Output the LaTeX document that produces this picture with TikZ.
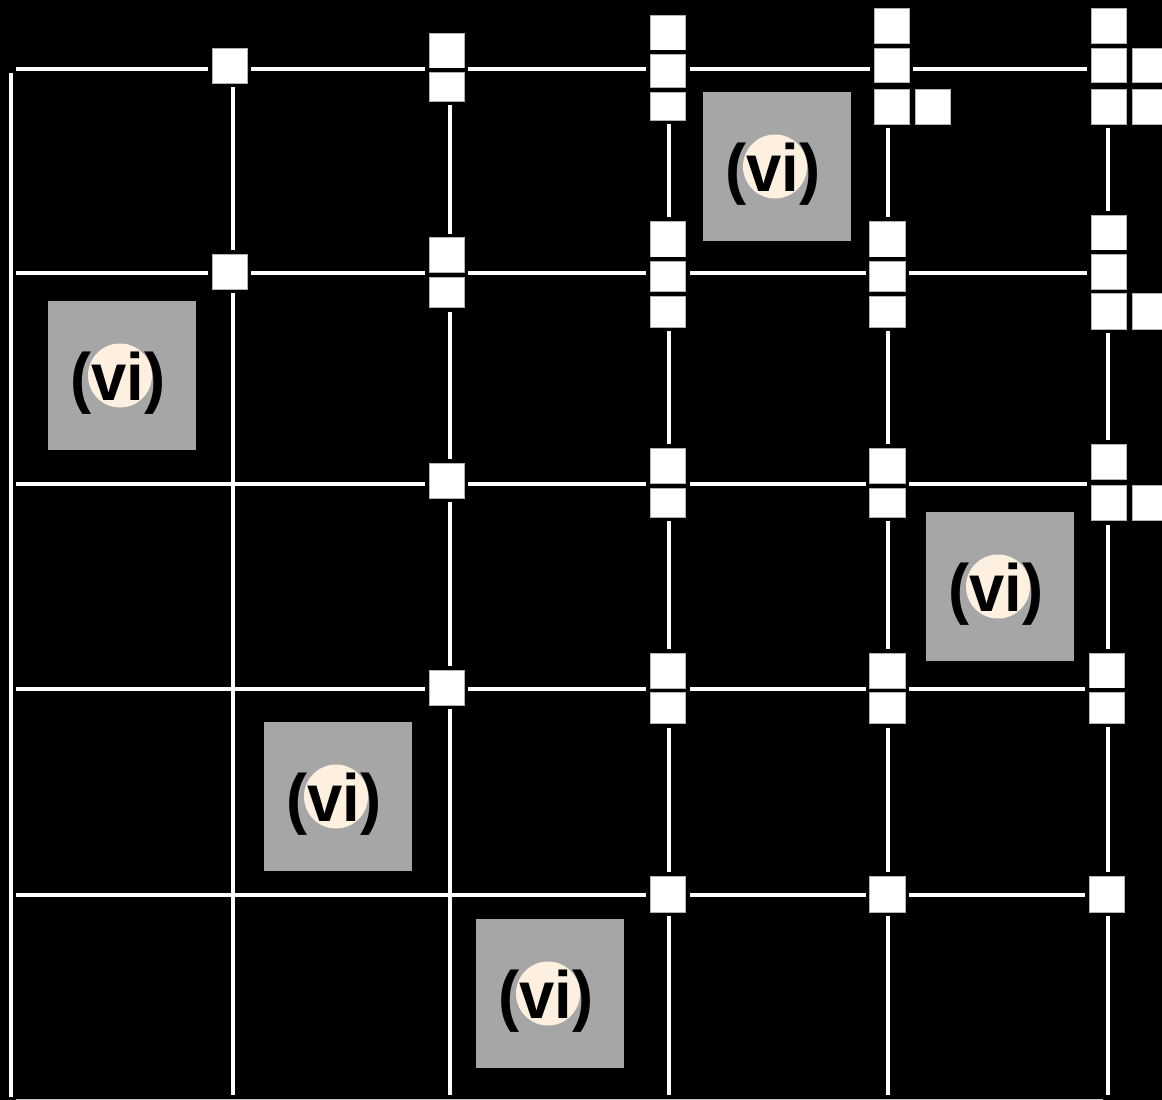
\documentclass[tikz,border=0pt]{standalone}
\usepackage{fontspec}
\setmainfont{Liberation Sans}
\usetikzlibrary{calc}
\definecolor{boxgray}{RGB}{166,166,166}
\definecolor{cream}{RGB}{253,240,225}
\newcommand{\vilabel}{\scalebox{0.945}[1]{(vi)}}
\begin{document}
\begin{tikzpicture}[x=1pt,y=-1pt,
  gline/.style={white, line width=4pt},
  sq/.style={rectangle, fill=white, draw=gray!60, line width=0.5pt, inner sep=0pt, outer sep=0pt,
    preaction={draw=black, line width=8pt}},
  gbox/.style={rectangle, fill=boxgray, minimum width=148pt, minimum height=149pt, inner sep=0pt},
  dotc/.style={circle, fill=cream, minimum size=64pt, inner sep=0pt},
  lbl/.style={font=\bfseries\fontsize{67}{80}\selectfont, inner sep=0pt, anchor=base, text=black}]
\fill[black] (0,0) rectangle (1162,1100);
\useasboundingbox (0,0) rectangle (1162,1100);

% grid coordinates
\foreach \n/\y in {1/68.5,2/273,3/484,4/689,5/895}{
  \coordinate (L\n) at (16,\y);
  \coordinate (R\n) at (1108,\y);
}
\foreach \n/\x/\t in {1/232.7/65,2/450/50,3/669/32,4/888.3/26,5/1107.7/26}{
  \coordinate (T\n) at (\x,\t);
  \coordinate (B\n) at (\x,1095);
}
\coordinate (T0) at (11.3,72.7);
\coordinate (B0) at (11.3,1097);
\coordinate (BL) at (16,1099.5);
\coordinate (BR) at (1103,1099.5);

% lines
\foreach \n in {1,...,5}{ \draw[gline] (L\n) -- (R\n); }
\foreach \n in {1,...,5}{ \draw[gline] (T\n) -- (B\n); }
\draw[gline] (T0) -- (B0);
\draw[gray!45, line width=1pt] (BL) -- (BR);

% column 1
\node[sq, minimum width=35pt, minimum height=35pt] (c1a) at (229.5,65.5) {};
\node[sq, minimum width=35pt, minimum height=35pt] (c1b) at (229.5,271.5) {};
% column 2
\node[sq, minimum width=35pt, minimum height=35pt] (c2a) at (446.8,50.8) {};
\node[sq, minimum width=35pt, minimum height=29pt] (c2b) at (446.8,86.8) {};
\node[sq, minimum width=35pt, minimum height=35pt] (c2c) at (446.8,255.2) {};
\node[sq, minimum width=35pt, minimum height=30.7pt] (c2d) at (446.8,292.35) {};
\node[sq, minimum width=35pt, minimum height=35pt] (c2e) at (446.8,480.8) {};
\node[sq, minimum width=35pt, minimum height=35pt] (c2f) at (446.8,687.5) {};
% column 3
\node[sq, minimum width=35.4pt, minimum height=35pt] (c3a) at (668,32.5) {};
\node[sq, minimum width=35.4pt, minimum height=33pt] (c3b) at (668,70.5) {};
\node[sq, minimum width=35.4pt, minimum height=28pt] (c3c) at (668,106) {};
\node[sq, minimum width=35.4pt, minimum height=36pt] (c3d) at (668,239) {};
\node[sq, minimum width=35.4pt, minimum height=30pt] (c3e) at (668,276) {};
\node[sq, minimum width=35.4pt, minimum height=31pt] (c3f) at (668,311.5) {};
\node[sq, minimum width=35.4pt, minimum height=35.4pt] (c3g) at (668,466) {};
\node[sq, minimum width=35.4pt, minimum height=29pt] (c3h) at (668,502.5) {};
\node[sq, minimum width=35.4pt, minimum height=35.4pt] (c3i) at (668,671) {};
\node[sq, minimum width=35.4pt, minimum height=31pt] (c3j) at (668,708.2) {};
\node[sq, minimum width=35.4pt, minimum height=36pt] (c3k) at (668,894) {};
% column 4
\node[sq, minimum width=35pt, minimum height=34.6pt] (c4a) at (891.5,26) {};
\node[sq, minimum width=35pt, minimum height=34.7pt] (c4b) at (891.5,65.35) {};
\node[sq, minimum width=35pt, minimum height=34.7pt] (c4c) at (891.5,106.65) {};
\node[sq, minimum width=35pt, minimum height=34.7pt] (c4x) at (932.5,106.65) {};
\node[sq, minimum width=35.3pt, minimum height=36pt] (c4d) at (887.35,239) {};
\node[sq, minimum width=35.3pt, minimum height=30pt] (c4e) at (887.35,276) {};
\node[sq, minimum width=35.3pt, minimum height=31pt] (c4f) at (887.35,311.5) {};
\node[sq, minimum width=35.3pt, minimum height=35.4pt] (c4g) at (887.35,466) {};
\node[sq, minimum width=35.3pt, minimum height=29pt] (c4h) at (887.35,502.5) {};
\node[sq, minimum width=35.3pt, minimum height=35.4pt] (c4i) at (887.35,671) {};
\node[sq, minimum width=35.3pt, minimum height=31pt] (c4j) at (887.35,708.2) {};
\node[sq, minimum width=35.3pt, minimum height=36pt] (c4k) at (887.35,894) {};
% column 5
\node[sq, minimum width=35pt, minimum height=35pt] (c5a) at (1108.5,25.8) {};
\node[sq, minimum width=35pt, minimum height=34.7pt] (c5b) at (1108.5,65.35) {};
\node[sq, minimum width=35pt, minimum height=34.7pt] (c5bx) at (1149.8,65.35) {};
\node[sq, minimum width=35pt, minimum height=35pt] (c5c) at (1108.5,106.5) {};
\node[sq, minimum width=35pt, minimum height=35pt] (c5cx) at (1149.8,106.5) {};
\node[sq, minimum width=35pt, minimum height=35.7pt] (c5d) at (1108.5,232.85) {};
\node[sq, minimum width=35pt, minimum height=35.4pt] (c5e) at (1108.5,272) {};
\node[sq, minimum width=35pt, minimum height=35.3pt] (c5f) at (1108.5,311.35) {};
\node[sq, minimum width=35pt, minimum height=35.3pt] (c5fx) at (1149.8,311.35) {};
\node[sq, minimum width=35pt, minimum height=35pt] (c5g) at (1108.5,461.8) {};
\node[sq, minimum width=35pt, minimum height=35pt] (c5h) at (1108.5,503.2) {};
\node[sq, minimum width=35pt, minimum height=35pt] (c5hx) at (1149.8,503.2) {};
\node[sq, minimum width=35pt, minimum height=35pt] (c5i) at (1106.5,670.8) {};
\node[sq, minimum width=35pt, minimum height=31pt] (c5j) at (1106.5,707.8) {};
\node[sq, minimum width=35pt, minimum height=36pt] (c5k) at (1106.5,894) {};

% gray labelled boxes
\foreach \n/\cx/\cy in {1/777/166.5, 2/122/375.5, 3/1000/586.5, 4/338/796.5, 5/550/993.5}{
  \node[gbox] (g\n) at (\cx,\cy) {};
  \node[dotc] (d\n) at ($(\cx,\cy)+(-2,0)$) {};
  \node[lbl] (t\n) at ($(\cx,\cy)+(-4,25)$) {\vilabel};
}
\end{tikzpicture}
\end{document}
